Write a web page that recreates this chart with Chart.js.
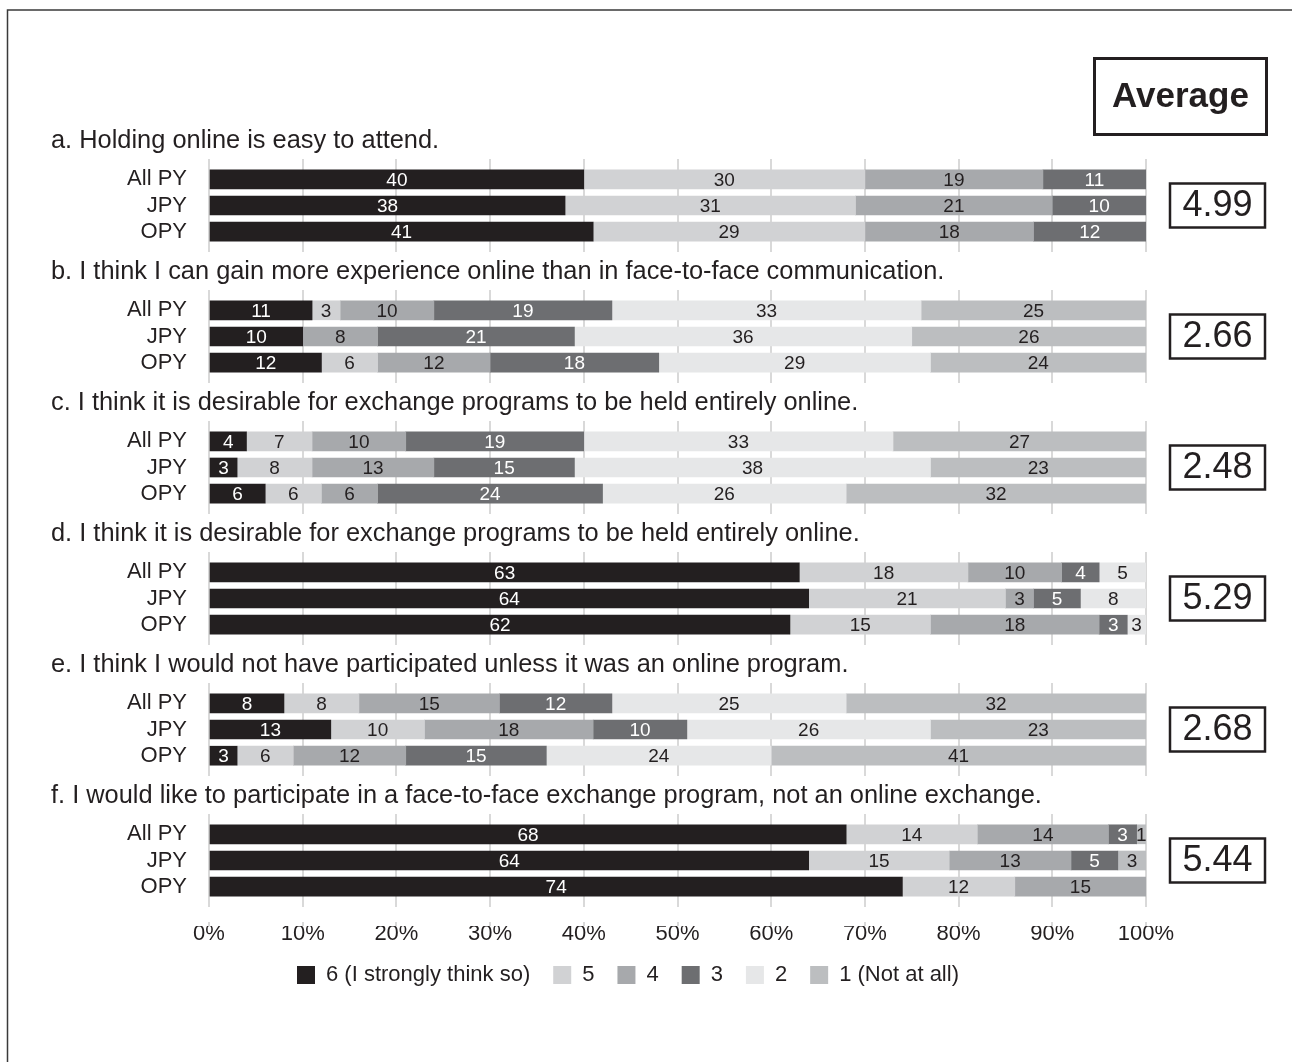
<!DOCTYPE html>
<html lang="en">
<head>
<meta charset="UTF-8">
<title>Online exchange survey</title>
<script src="https://cdn.jsdelivr.net/npm/chart.js@4.4.1/dist/chart.umd.min.js"></script>
<style>
  html, body { margin: 0; padding: 0; background: #fff; }
  #wrap { position: relative; width: 1292px; height: 1062px; }
</style>
</head>
<body>
<div id="wrap"><canvas id="surveyChart"></canvas></div>
<script>
const groups = ['All PY', 'JPY', 'OPY'];
const questions = [
  'a. Holding online is easy to attend.',
  'b. I think I can gain more experience online than in face-to-face communication.',
  'c. I think it is desirable for exchange programs to be held entirely online.',
  'd. I think it is desirable for exchange programs to be held entirely online.',
  'e. I think I would not have participated unless it was an online program.',
  'f. I would like to participate in a face-to-face exchange program, not an online exchange.'
];
const averages = [4.99, 2.66, 2.48, 5.29, 2.68, 5.44];
const seriesNames = ['6 (I strongly think so)', '5', '4', '3', '2', '1 (Not at all)'];
const seriesColors = ['#231f20', '#d1d2d4', '#a7a9ac', '#6d6e71', '#e6e7e8', '#bcbec0'];

// percentages per question, rows All PY / JPY / OPY
const score6 = [40, 38, 41,  11, 10, 12,   4,  3,  6,  63, 64, 62,   8, 13,  3,  68, 64, 74];
const score5 = [30, 31, 29,   3,  0,  6,   7,  8,  6,  18, 21, 15,   8, 10,  6,  14, 15, 12];
const score4 = [19, 21, 18,  10,  8, 12,  10, 13,  6,  10,  3, 18,  15, 18, 12,  14, 13, 15];
const score3 = [11, 10, 12,  19, 21, 18,  19, 15, 24,   4,  5,  3,  12, 10, 15,   3,  5,  0];
const score2 = [ 0,  0,  0,  33, 36, 29,  33, 38, 26,   5,  8,  3,  25, 26, 24,   0,  0,  0];
const score1 = [ 0,  0,  0,  25, 26, 24,  27, 23, 32,   0,  0,  0,  32, 23, 41,   1,  3,  0];
const xTicks = [0, 10, 20, 30, 40, 50, 60, 70, 80, 90, 100];

const ink = '#231f20';
const FONT = "'Liberation Sans', Arial, sans-serif";
Chart.defaults.font.family = FONT;
Chart.defaults.color = ink;

// each question gets 5 slots: blank, three rows, blank
const slotLabels = [];
questions.forEach(() => slotLabels.push('', ...groups, ''));
function slotData(values) {
  const out = [];
  questions.forEach((q, g) => {
    out.push(null, values[g * 3], values[g * 3 + 1], values[g * 3 + 2], null);
  });
  return out;
}

const allScores = [score6, score5, score4, score3, score2, score1];
const datasets = allScores.map((s, i) => ({
  label: seriesNames[i],
  data: slotData(s),
  backgroundColor: seriesColors[i],
  borderWidth: 0,
  barThickness: 19,
  clip: 0
}));

function boundary(y, g) {
  const step = y.getPixelForValue(1) - y.getPixelForValue(0);
  return y.getPixelForValue(g * 5) - step / 2;
}

const surveyDecor = {
  id: 'surveyDecor',
  afterLayout(chart) {
    // pull the legend a little closer to the axis labels
    chart.legend.top -= 4;
    chart.legend.bottom -= 4;
  },
  beforeDatasetsDraw(chart) {
    // white bands where the question titles sit
    const {ctx, chartArea: a, scales: {y}} = chart;
    ctx.save();
    ctx.fillStyle = '#fff';
    for (let g = 0; g <= questions.length; g++) {
      const yb = boundary(y, g);
      const top = Math.max(a.top, yb - 19);
      const bot = Math.min(a.bottom - 4, yb + 19);
      if (bot > top) ctx.fillRect(a.left - 3, top, a.right - a.left + 6, bot - top);
    }
    ctx.restore();
  },
  afterDatasetsDraw(chart) {
    const {ctx, chartArea: a} = chart;
    ctx.save();
    ctx.font = '19px ' + FONT;
    ctx.textAlign = 'center';
    ctx.textBaseline = 'middle';
    chart.data.datasets.forEach((ds, i) => {
      const meta = chart.getDatasetMeta(i);
      ctx.fillStyle = (i === 0 || i === 3) ? '#fff' : ink;
      meta.data.forEach((bar, j) => {
        const v = ds.data[j];
        if (!v) return;
        const p = bar.getProps(['x', 'y', 'base'], true);
        const cx = (Math.min(p.x, a.right) + p.base) / 2;
        ctx.fillText(String(v), cx, p.y + 1);
      });
    });
    ctx.restore();
  },
  afterDraw(chart) {
    const {ctx, scales: {y}} = chart;
    ctx.save();
    // question titles
    ctx.fillStyle = ink;
    ctx.font = '25.4px ' + FONT;
    ctx.textAlign = 'left';
    ctx.textBaseline = 'alphabetic';
    questions.forEach((q, g) => {
      ctx.fillText(q, 51, boundary(y, g) + 8);
    });
    // "Average" header box
    ctx.strokeStyle = ink;
    ctx.lineWidth = 3;
    ctx.strokeRect(1094.5, 58.5, 172, 76);
    ctx.font = 'bold 35px ' + FONT;
    ctx.textAlign = 'center';
    ctx.textBaseline = 'middle';
    ctx.fillText('Average', 1180.5, 97);
    // average value boxes, centred on the JPY row
    ctx.lineWidth = 2.5;
    ctx.font = '36px ' + FONT;
    averages.forEach((v, g) => {
      const cy = y.getPixelForValue(g * 5 + 2);
      ctx.strokeRect(1170, cy - 22, 95, 44);
      ctx.fillText(v.toFixed(2), 1217.5, cy + 1);
    });
    // frame on top and left
    ctx.strokeStyle = '#3a3a3a';
    ctx.lineWidth = 1.5;
    ctx.beginPath();
    ctx.moveTo(7.5, 1062);
    ctx.lineTo(7.5, 10);
    ctx.lineTo(1292, 10);
    ctx.stroke();
    ctx.restore();
  }
};

new Chart(document.getElementById('surveyChart'), {
  type: 'bar',
  data: { labels: slotLabels, datasets: datasets },
  options: {
    indexAxis: 'y',
    responsive: true,
    maintainAspectRatio: false,
    animation: false,
    layout: { padding: { top: 140, left: 110, right: 146, bottom: 62 } },
    scales: {
      x: {
        stacked: true,
        min: 0,
        max: 100,
        afterBuildTicks: s => { s.ticks = xTicks.map(v => ({ value: v })); },
        afterFit: s => { s.height = 19; },
        ticks: { callback: v => v + '%', font: { size: 22 }, color: ink, padding: -5 },
        grid: { color: '#d9d9d9', lineWidth: 2, drawTicks: false },
        border: { display: false }
      },
      y: {
        stacked: true,
        afterFit: s => { s.width = 99; },
        ticks: { font: { size: 22 }, color: ink, padding: 22, autoSkip: false },
        grid: { display: false, drawTicks: false },
        border: { display: false }
      }
    },
    plugins: {
      legend: {
        position: 'bottom',
        labels: { boxWidth: 18, boxHeight: 18, padding: 23, font: { size: 22 }, color: ink }
      },
      tooltip: { enabled: false }
    }
  },
  plugins: [surveyDecor]
});
</script>
</body>
</html>
